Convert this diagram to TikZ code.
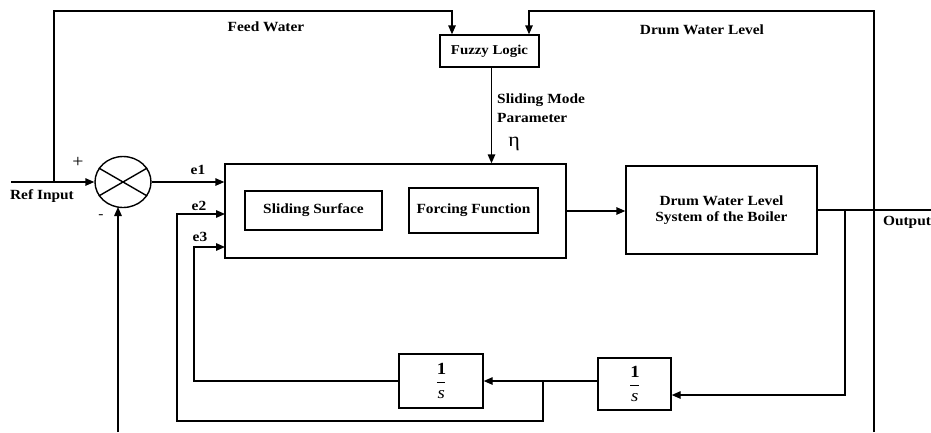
\documentclass[tikz,border=0pt]{standalone}
\usepackage{fontspec}
\setmainfont{Liberation Serif}[FakeStretch=1.1]
\usetikzlibrary{arrows.meta,shapes.geometric}
\begin{document}
\begin{tikzpicture}[x=1pt,y=-1pt,
  every node/.style={font=\fontsize{14}{16}\selectfont\bfseries},
  line/.style={line width=1.4pt},
  arr/.style={line width=1.4pt,-{Triangle[length=9pt,width=7.5pt]}},
  blk/.style={draw,line width=1.4pt,rectangle,inner sep=0pt},
  frac/.style={align=center,font=\fontsize{17}{19}\selectfont\bfseries},
  lbl/.style={inner sep=0pt}]
\useasboundingbox (0,0) rectangle (931,432);
% blocks
\node[blk,minimum width=99pt,minimum height=32pt] (fuzzy) at (489.5,51) {\fontsize{13.5}{15}\selectfont Fuzzy Logic};
\node[blk,minimum width=341pt,minimum height=94pt] (smc) at (395.5,211) {};
\node[blk,minimum width=137pt,minimum height=39pt] (ss) at (313.5,210.5) {Sliding Surface};
\node[blk,minimum width=129pt,minimum height=45pt] (ff) at (473.5,210.5) {Forcing Function};
\node[blk,minimum width=191pt,minimum height=88pt,align=center] (drum) at (721.5,210) {Drum Water Level\\System of the Boiler};
\node[blk,frac,minimum width=84pt,minimum height=54pt] (int1) at (441,381) {$\displaystyle\frac{\mathbf{1}}{\mathit{s}}$};
\node[blk,frac,minimum width=73pt,minimum height=52pt] (int2) at (634.5,384) {$\displaystyle\frac{\mathbf{1}}{\mathit{s}}$};
\node[draw,ellipse,line width=1.4pt,minimum width=56pt,minimum height=51pt,inner sep=0pt] (sum) at (123,182) {};
\draw[line] (sum.150) -- (sum.-30);
\draw[line] (sum.30) -- (sum.-150);
% coordinates
\coordinate (ref) at (11,182);
\coordinate (fw0) at (54,182);
\coordinate (fw1) at (452,11);
\coordinate (dwb) at (874,432);
\coordinate (dw) at (874,11);
\coordinate (dwt) at (529,11);
\coordinate (bj) at (543,381);
\coordinate (b1) at (543,421);
\coordinate (b2) at (177,421);
\coordinate (e2in) at (225,214);
\coordinate (e3c) at (194,247);
\coordinate (e3in) at (225,247);
\coordinate (ob) at (845,210);
\coordinate (ob2) at (845,395);
\coordinate (out) at (931,210);
\coordinate (fbb) at (118,432);
\coordinate (mtip) at (118,207);
% connectors
\draw[arr] (ref) -- (sum.west);
\draw[arr] (fw0) |- (fw1) -- (fw1 |- fuzzy.north);
\draw[arr] (dwb) -- (dw) -- (dwt) -- (dwt |- fuzzy.north);
\draw[arr] ([xshift=2pt]fuzzy.south) -- ([xshift=2pt]fuzzy.south |- smc.north);
\draw[arr] (sum.east |- 0,182) -- (smc.west |- 0,182);
\draw[arr] (bj) -- (b1) -- (b2) |- (e2in);
\draw[arr] (int1.west) -| (e3c) -- (e3in);
\draw[arr] (int2.west |- bj) -- (int1.east |- bj);
\draw[arr] (ob) -- (ob2) -- (ob2 -| int2.east);
\draw[arr] (smc.east) -- (smc.east -| drum.west);
\draw[line] (drum.east) -- (out);
\draw[arr] (fbb) -- (mtip);
% labels
\node[lbl] (lfw) at (266,27) {Feed Water};
\node[lbl] (ldw) at (702,30) {Drum Water Level};
\node[lbl,anchor=west] (lsm) at (497,100) {Sliding Mode};
\node[lbl,anchor=west] (lpa) at (497,118) {Parameter};
\node[lbl] (leta) at (514,144) {\fontsize{20}{22}\selectfont\mdseries η};
\node[lbl] (lref) at (42,196) {Ref Input};
\node[lbl] (lplus) at (78,162) {\fontsize{18}{20}\selectfont\mdseries +};
\node[lbl] (lminus) at (101,217) {\mdseries -};
\node[lbl] (le1) at (198,170) {e1};
\node[lbl] (le2) at (199,206) {e2};
\node[lbl] (le3) at (200,237) {e3};
\node[lbl] (lout) at (907,222) {Output};
\end{tikzpicture}
\end{document}
